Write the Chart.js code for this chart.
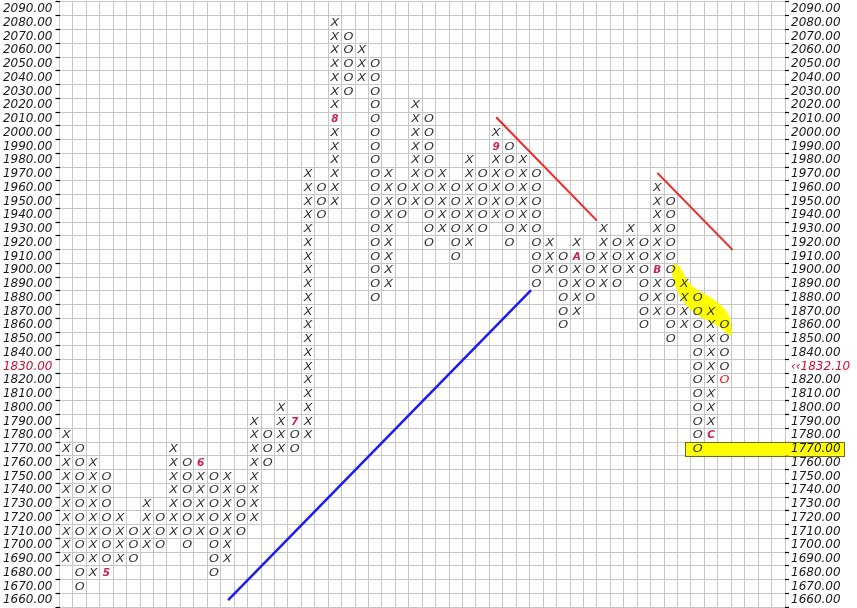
<!DOCTYPE html>
<html><head><meta charset="utf-8">
<script src="https://cdn.jsdelivr.net/npm/chart.js"></script>
<style>html,body{margin:0;padding:0;background:#fff}#wrap{width:857px;height:608px}</style>
</head><body><div id="wrap"><canvas id="c" width="857" height="608"></canvas></div>
<script>
// ---- data ----
const priceTicks = [2090,2080,2070,2060,2050,2040,2030,2020,2010,2000,1990,1980,1970,1960,1950,1940,1930,1920,1910,1900,1890,1880,1870,1860,1850,1840,1830,1820,1810,1800,1790,1780,1770,1760,1750,1740,1730,1720,1710,1700,1690,1680,1670,1660];
const boxSize = 10;
const colTypes = ['X','O','X','O','X','O','X','O','X','O','X','O','X','O','X','O','X','O','X','O','X','O','X','O','X','O','X','O','X','O','X','O','X','O','X','O','X','O','X','O','X','O','X','O','X','O','X','O','X','O'];
const colLow  = [1690,1670,1680,1680,1690,1690,1700,1700,1710,1700,1710,1680,1690,1710,1720,1760,1770,1770,1780,1940,1950,2030,2040,1880,1890,1940,1950,1920,1930,1910,1920,1930,1940,1920,1930,1890,1900,1860,1870,1880,1890,1890,1900,1860,1870,1850,1860,1770,1780,1820];
const colHigh = [1780,1770,1760,1750,1720,1710,1730,1720,1770,1760,1760,1750,1750,1740,1790,1780,1800,1790,1970,1960,2080,2070,2060,2050,1970,1960,2020,2010,1970,1960,1980,1970,2000,1990,1980,1970,1920,1910,1920,1910,1930,1920,1930,1920,1960,1950,1890,1880,1870,1860];
const monthCols   = [3,10,17,20,32,38,44,48];
const monthValues = [1680,1760,1790,2010,1990,1910,1900,1780];
const monthLabels = ['5','6','7','8','9','A','B','C'];
const lastCol = 49, lastValue = 1820;
const lastPrice = '1832.10', lastPriceRow = 1830;
const targetRow = 1770, targetStartCol = 46.07;
const totalCols = 54;
const resistance1 = [{x:32.0,y:2011.2},{x:39.5,y:1936.0}];
const resistance2 = [{x:44.0,y:1970.7},{x:49.6,y:1914.7}];
const support1    = [{x:12.05,y:1660.0},{x:34.6,y:1885.4}];
const bandShape = [[45.46,1904.8],[45.83,1900],[46.22,1891.5],[46.95,1885.4],[47.94,1880.6],[48.9,1873.3],[49.43,1866],[49.55,1854],
                   [49.43,1851.5],[48.68,1858.8],[47.69,1863.6],[46.69,1868.7],[45.83,1878.2],[45.33,1887.8],[45.08,1897.8],[45.08,1903.6]];

// ---- build boxes ----
const boxPts = [], boxGlyph = [], boxColor = [];
for (let c = 0; c < colTypes.length; c++) {
  for (let v = colLow[c]; v <= colHigh[c]; v += boxSize) {
    let g = colTypes[c], col = '#333';
    for (let m = 0; m < monthCols.length; m++) {
      if (monthCols[m] === c && monthValues[m] === v) { g = monthLabels[m]; col = '#cc2255'; }
    }
    if (c === lastCol && v === lastValue) col = '#ff1010';
    boxPts.push({x: c, y: v}); boxGlyph.push(g); boxColor.push(col);
  }
}

const FONT = '"DejaVu Sans", Verdana, sans-serif';

const glyphPlugin = {
  id: 'glyphs',
  beforeDatasetsDraw(chart) {
    const ctx = chart.ctx, xs = chart.scales.x, ys = chart.scales.y, y2 = chart.scales.y2;
    ctx.save();
    const P = bandShape.map(p => [xs.getPixelForValue(p[0]), ys.getPixelForValue(p[1])]);
    ctx.beginPath();
    ctx.moveTo((P[0][0]+P[P.length-1][0])/2, (P[0][1]+P[P.length-1][1])/2);
    for (let i = 0; i < P.length; i++) {
      const a = P[i], b = P[(i+1)%P.length];
      ctx.quadraticCurveTo(a[0], a[1], (a[0]+b[0])/2, (a[1]+b[1])/2);
    }
    ctx.closePath();
    ctx.fillStyle = '#ffff00';
    ctx.fill();
    ctx.font = 'italic 12px ' + FONT;
    const lx = y2.left + 6;
    const w = ctx.measureText('1770.00').width;
    const x0 = xs.getPixelForValue(targetStartCol), x1 = lx + w + 4;
    const yt = ys.getPixelForValue(targetRow + boxSize/2), yb = ys.getPixelForValue(targetRow - boxSize/2);
    ctx.fillStyle = '#ffff00';
    ctx.fillRect(x0, yt, x1 - x0, yb - yt);
    ctx.strokeStyle = '#6b6b20'; ctx.lineWidth = 1;
    ctx.strokeRect(Math.round(x0)+0.5, Math.round(yt)+0.5, Math.round(x1-x0), Math.round(yb-yt));
    ctx.restore();
  },
  afterDatasetsDraw(chart) {
    const ctx = chart.ctx;
    chart.data.datasets.forEach((ds, i) => {
      if (!ds.glyphs) return;
      const meta = chart.getDatasetMeta(i);
      meta.data.forEach((pt, j) => {
        const g = ds.glyphs[j];
        const isMonth = !(g === 'X' || g === 'O');
        ctx.save();
        ctx.translate(pt.x, pt.y + 0.5);
        ctx.scale(isMonth ? 1.0 : 1.15, 1);
        ctx.textAlign = 'center'; ctx.textBaseline = 'middle';
        ctx.font = (isMonth ? 'italic bold 10.5px ' : 'italic 11px ') + FONT;
        ctx.fillStyle = ds.glyphColors[j];
        ctx.fillText(g, 0, 0);
        ctx.restore();
      });
    });
  }
};

const setTicks = s => { s.ticks = priceTicks.map(v => ({value: v})); };
const tickFont = {family: FONT, size: 12, style: 'italic', lineHeight: 1};

new Chart(document.getElementById('c'), {
  type: 'line',
  data: {
    datasets: [
      {data: resistance1, borderColor: '#f02626', borderWidth: 2, pointRadius: 0, fill: false},
      {data: resistance2, borderColor: '#f02626', borderWidth: 2, pointRadius: 0, fill: false},
      {data: support1, borderColor: '#1c1cf0', borderWidth: 2.5, pointRadius: 0, fill: false},
      {data: boxPts, showLine: false, pointRadius: 0, glyphs: boxGlyph, glyphColors: boxColor}
    ]
  },
  options: {
    responsive: false, animation: false, devicePixelRatio: 1,
    layout: {padding: {top: 2, bottom: 1, left: 0, right: 0}},
    plugins: {legend: {display: false}, tooltip: {enabled: false}},
    scales: {
      x: {
        type: 'linear', min: -0.5, max: totalCols - 0.5,
        afterBuildTicks: s => { const t = []; for (let i = 0; i <= totalCols; i++) t.push({value: i - 0.5}); s.ticks = t; },
        ticks: {display: false},
        grid: {color: '#c6c6c6', lineWidth: 1, drawTicks: false},
        border: {display: false}
      },
      y: {
        type: 'linear', position: 'left', min: 1655, max: 2095,
        afterBuildTicks: setTicks,
        afterFit: s => { s.width = 59.5; s.paddingTop = 0; s.paddingBottom = 0; },
        ticks: {autoSkip: false, padding: 3, font: tickFont,
          color: c => (c.tick && c.tick.value === lastPriceRow) ? '#cc1133' : '#1a1a1a',
          callback: v => Number(v).toFixed(2)},
        grid: {offset: true, color: '#c6c6c6', lineWidth: 1, tickLength: 4, tickColor: '#000', tickWidth: 1.2},
        border: {display: false}
      },
      y2: {
        type: 'linear', position: 'right', min: 1655, max: 2095,
        afterBuildTicks: setTicks,
        afterFit: s => { s.width = 72; s.paddingTop = 0; s.paddingBottom = 0; },
        ticks: {autoSkip: false, padding: 2, z: 1, font: tickFont,
          color: c => (c.tick && c.tick.value === lastPriceRow) ? '#cc1133' : '#1a1a1a',
          callback: v => v === lastPriceRow ? '\u2039\u2039' + lastPrice : Number(v).toFixed(2)},
        grid: {offset: true, drawOnChartArea: false, tickLength: 4, tickColor: '#000', tickWidth: 1.2},
        border: {display: false}
      }
    }
  },
  plugins: [glyphPlugin]
});
</script></body></html>
